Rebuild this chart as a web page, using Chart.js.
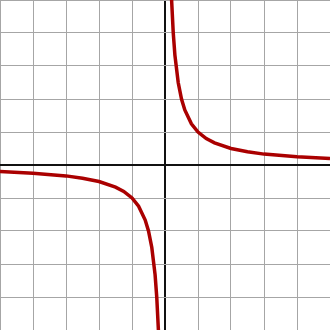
<!DOCTYPE html>
<html lang="en">
<head>
    <meta charset="UTF-8">
    <title>y = 1/x</title>
    <script src="https://cdn.jsdelivr.net/npm/chart.js"></script>
    <style>
        * { margin: 0; padding: 0; box-sizing: border-box; }
        body { width: 330px; height: 330px; background: #fff; overflow: hidden; }
        .chart-container { width: 330px; height: 330px; position: relative; }
    </style>
</head>
<body>
    <div class="chart-container">
        <canvas id="myChart"></canvas>
    </div>

    <script>
        // Points (right and left branch)
        const rightX = [0.2, 0.25, 0.3, 0.4, 0.5, 0.6, 0.8, 1, 1.25, 1.5, 2, 2.5, 3, 4, 5];
        const rightY = [5, 4, 3.33, 2.5, 2, 1.67, 1.25, 1, 0.8, 0.67, 0.5, 0.4, 0.33, 0.25, 0.2];
        const leftX = [-5, -4, -3, -2.5, -2, -1.5, -1.25, -1, -0.8, -0.6, -0.5, -0.4, -0.3, -0.25, -0.2];
        const leftY = [-0.2, -0.25, -0.33, -0.4, -0.5, -0.67, -0.8, -1, -1.25, -1.67, -2, -2.5, -3.33, -4, -5];
        const axisMin = -5;
        const axisMax = 5;

        const toPoints = (xs, ys) => xs.map((x, i) => ({ x: x, y: ys[i] }));

        const lineStyle = {
            showLine: true,
            borderColor: '#aa0000',
            borderWidth: 3.5,
            pointRadius: 0,
            fill: false,
            tension: 0
        };

        const gridOpts = {
            color: ctx => ctx.tick && ctx.tick.value === 0 ? '#111' : '#a6a6a6',
            lineWidth: ctx => ctx.tick && ctx.tick.value === 0 ? 2 : 1,
            drawTicks: false
        };

        const ctx = document.getElementById('myChart').getContext('2d');
        new Chart(ctx, {
            type: 'scatter',
            data: {
                datasets: [
                    Object.assign({ data: toPoints(rightX, rightY) }, lineStyle),
                    Object.assign({ data: toPoints(leftX, leftY) }, lineStyle)
                ]
            },
            options: {
                responsive: true,
                maintainAspectRatio: false,
                animation: false,
                layout: { padding: 0 },
                plugins: { legend: { display: false }, tooltip: { enabled: false } },
                scales: {
                    x: {
                        type: 'linear', min: axisMin, max: axisMax,
                        ticks: { display: false, stepSize: 1 },
                        grid: gridOpts,
                        border: { display: false }
                    },
                    y: {
                        type: 'linear', min: axisMin, max: axisMax,
                        ticks: { display: false, stepSize: 1 },
                        grid: gridOpts,
                        border: { display: false }
                    }
                }
            }
        });
    </script>
</body>
</html>
